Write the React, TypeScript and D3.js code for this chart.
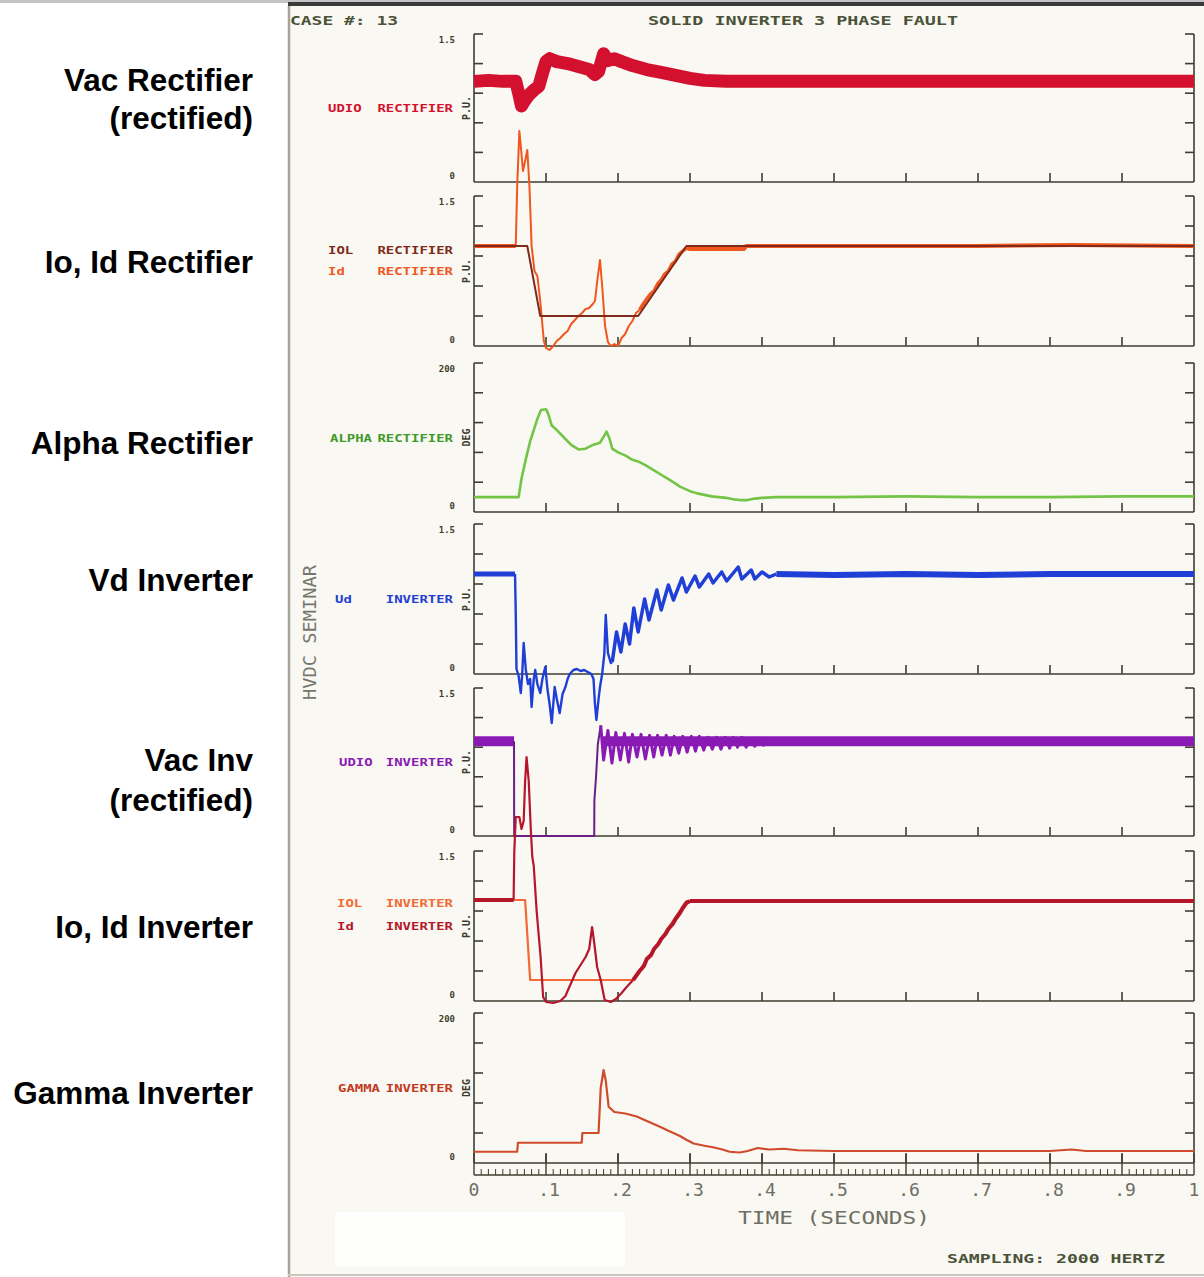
import React from 'react';
import * as d3 from 'd3';

type P = [number, number];

// ---------- axis ticks / labels ----------
const timeTicks = [0, 0.1, 0.2, 0.3, 0.4, 0.5, 0.6, 0.7, 0.8, 0.9, 1];
const timeTickLabels = ['0', '.1', '.2', '.3', '.4', '.5', '.6', '.7', '.8', '.9', '1'];
const puTicks = [0, 0.3, 0.6, 0.9, 1.2, 1.5];
const degTicks = [0, 40, 80, 120, 160, 200];

// ---------- series (time s, value) ----------
const vacRect: P[] = [[0,1.02],[0.02,1.03],[0.04,1.02],[0.058,1.02],[0.062,0.9],[0.066,0.77],[0.07,0.82],[0.076,0.88],[0.083,0.93],[0.09,0.97],[0.095,1.1],[0.1,1.22],[0.105,1.25],[0.115,1.22],[0.13,1.2],[0.145,1.17],[0.16,1.14],[0.168,1.09],[0.173,1.12],[0.18,1.3],[0.186,1.23],[0.195,1.25],[0.205,1.22],[0.22,1.18],[0.24,1.14],[0.26,1.11],[0.28,1.08],[0.3,1.05],[0.32,1.03],[0.35,1.02],[0.4,1.02],[0.6,1.02],[0.8,1.02],[1,1.02]];

const ioRect: P[] = [[0,1.0],[0.074,1.0],[0.092,0.3],[0.228,0.3],[0.295,1.0],[1,1.0]];
const idRectPre: P[] = [[0,1.0],[0.058,1.0]];
const idRectFault: P[] = [[0.058,1.0],[0.06,1.6],[0.063,2.15],[0.065,2.0],[0.068,1.75],[0.071,1.85],[0.074,1.96],[0.077,1.6],[0.08,1.0],[0.084,0.75],[0.088,0.7],[0.092,0.45],[0.097,0.05],[0.1,-0.02],[0.105,-0.04],[0.11,0.0],[0.115,0.05],[0.12,0.08],[0.125,0.12],[0.13,0.15],[0.135,0.22],[0.14,0.26],[0.145,0.3],[0.15,0.33],[0.155,0.37],[0.16,0.38],[0.165,0.42],[0.168,0.45],[0.172,0.7],[0.175,0.86],[0.178,0.6],[0.182,0.2],[0.186,0.04],[0.19,0.0],[0.195,0.02],[0.2,0.0],[0.205,0.08],[0.21,0.12],[0.215,0.2],[0.22,0.25],[0.225,0.33],[0.23,0.36]];
const idRectRamp: P[] = [[0.23,0.36],[0.235,0.42],[0.24,0.47],[0.245,0.52],[0.25,0.55],[0.255,0.62],[0.26,0.66],[0.265,0.72],[0.27,0.75],[0.275,0.82],[0.28,0.85],[0.285,0.92],[0.29,0.95],[0.295,0.98]];
const idRectPost: P[] = [[0.295,0.98],[0.3,0.97],[0.34,0.97],[0.375,0.97],[0.378,1.0],[0.5,1.0],[0.7,1.0],[0.83,1.01],[1,1.0]];

const alphaRect: P[] = [[0,20],[0.062,20],[0.066,45],[0.073,75],[0.078,95],[0.082,107],[0.088,125],[0.093,137],[0.1,138],[0.103,132],[0.108,116],[0.115,110],[0.125,100],[0.135,90],[0.145,84],[0.155,85],[0.165,90],[0.175,93],[0.18,101],[0.184,108],[0.188,99],[0.192,85],[0.2,80],[0.21,76],[0.22,70],[0.23,67],[0.238,63],[0.25,56],[0.26,50],[0.27,44],[0.28,38],[0.286,34],[0.3,28],[0.31,25],[0.32,23],[0.33,21],[0.34,20],[0.35,19],[0.36,17],[0.37,16],[0.38,16],[0.39,18],[0.4,19],[0.42,20],[0.5,20],[0.6,21],[0.7,20],[0.8,20],[0.9,21],[1,21]];

const vdPre: P[] = [[0,1.0],[0.057,1.0]];
const vdFault: P[] = [[0.057,1.0],[0.058,0.6],[0.059,0.05],[0.062,-0.02],[0.065,-0.19],[0.067,0.0],[0.069,0.31],[0.072,0.04],[0.075,-0.1],[0.078,-0.05],[0.08,-0.33],[0.083,-0.05],[0.085,0.04],[0.088,-0.1],[0.092,-0.19],[0.095,-0.05],[0.099,0.07],[0.102,-0.15],[0.105,-0.3],[0.108,-0.49],[0.112,-0.13],[0.115,-0.25],[0.119,-0.39],[0.123,-0.2],[0.127,-0.13],[0.13,-0.05],[0.133,0.0],[0.138,0.04],[0.143,0.05],[0.148,0.03],[0.153,0.04],[0.158,0.02],[0.163,0.0],[0.166,-0.05],[0.168,-0.3],[0.17,-0.46],[0.173,-0.25],[0.175,-0.13],[0.178,0.0],[0.181,0.2],[0.183,0.59],[0.186,0.21],[0.19,0.11],[0.192,0.12]];
const vdRecovery: P[] = [[0.192,0.12],[0.198,0.42],[0.204,0.22],[0.21,0.5],[0.216,0.3],[0.222,0.66],[0.228,0.42],[0.237,0.75],[0.243,0.54],[0.254,0.84],[0.26,0.64],[0.27,0.89],[0.277,0.74],[0.289,0.96],[0.295,0.82],[0.307,0.98],[0.313,0.87],[0.326,1.0],[0.332,0.91],[0.344,1.02],[0.351,0.93],[0.367,1.07],[0.372,0.95],[0.385,1.04],[0.39,0.95],[0.4,1.02],[0.41,0.97],[0.42,1.0]];
const vdPost: P[] = [[0.42,1.0],[0.5,0.99],[0.6,1.0],[0.7,0.99],[0.8,1.0],[0.9,1.0],[1,1.0]];

const vacInvPre: P[] = [[0,0.96],[0.0556,0.96]];
const vacInvFault: P[] = [[0.0556,0.96],[0.0558,0.0],[0.167,0.0],[0.1672,0.36],[0.1695,0.6],[0.172,0.93],[0.176,1.12]];
const vacInvRecovery: P[] = [[0.176,1.12],[0.18,0.77],[0.186,1.07],[0.1916,0.74],[0.197,1.05],[0.2032,0.77],[0.209,1.04],[0.2148,0.75],[0.22,1.03],[0.2264,0.8],[0.232,1.03],[0.238,0.78],[0.244,1.02],[0.2496,0.8],[0.255,1.02],[0.2612,0.82],[0.267,1.02],[0.2728,0.82],[0.278,1.01],[0.2844,0.84],[0.29,1.01],[0.296,0.85],[0.302,1.01],[0.3076,0.86],[0.313,1.01],[0.319,0.87],[0.325,1.0],[0.331,0.88],[0.337,1.0],[0.343,0.88],[0.349,1.0],[0.355,0.89],[0.36,1.0],[0.366,0.9],[0.372,1.0],[0.378,0.9],[0.384,0.99],[0.39,0.91],[0.396,0.99],[0.402,0.92],[0.41,0.96]];
const vacInvPost: P[] = [[0.178,0.96],[0.3,0.96],[0.6,0.96],[0.8,0.96],[1,0.96]];

const ioInv: P[] = [[0,1.01],[0.071,1.01],[0.078,0.21],[0.221,0.21],[0.295,1.0],[1,1.0]];
const idInvPre: P[] = [[0,1.01],[0.055,1.01]];
const idInvFault: P[] = [[0.055,1.01],[0.056,1.5],[0.058,1.84],[0.063,1.84],[0.066,1.72],[0.069,1.8],[0.071,2.2],[0.073,2.44],[0.076,2.2],[0.079,1.7],[0.081,1.44],[0.083,1.35],[0.087,0.9],[0.0925,0.44],[0.096,0.04],[0.1,-0.01],[0.11,-0.02],[0.12,0.0],[0.127,0.05],[0.133,0.15],[0.141,0.28],[0.148,0.36],[0.155,0.44],[0.16,0.52],[0.164,0.74],[0.167,0.58],[0.171,0.34],[0.176,0.21],[0.1815,0.01],[0.19,-0.01],[0.197,0.02],[0.205,0.08],[0.212,0.14],[0.221,0.21]];
const idInvRamp: P[] = [[0.221,0.21],[0.23,0.3],[0.236,0.35],[0.24,0.42],[0.246,0.46],[0.25,0.52],[0.256,0.57],[0.26,0.62],[0.266,0.67],[0.27,0.72],[0.276,0.77],[0.28,0.82],[0.286,0.88],[0.29,0.93],[0.295,0.98],[0.3,1.0]];
const idInvPost: P[] = [[0.3,1.0],[0.5,1.0],[0.7,1.0],[0.9,1.0],[1,1.0]];

const gammaInv: P[] = [[0,15],[0.06,15],[0.061,27],[0.1496,27],[0.1505,40],[0.173,40],[0.176,100],[0.18,124],[0.183,110],[0.187,75],[0.195,68],[0.21,66],[0.226,62],[0.24,56],[0.259,48],[0.27,43],[0.286,36],[0.295,31],[0.305,26],[0.32,23],[0.332,21],[0.345,18],[0.355,15],[0.369,14],[0.38,16],[0.394,20],[0.41,18],[0.43,19],[0.45,17],[0.5,16],[0.6,16],[0.7,16],[0.8,16],[0.83,18],[0.85,16],[0.9,16],[1,16]];

// ---------- colours ----------
const C = {
  vacRect: '#d3112e', ioRect: '#7e2a1c', idRect: '#f0561e', alpha: '#74c447',
  vd: '#1f3fd6', vacInv: '#8a1ab4', vacInvZero: '#6a1f84', ioInv: '#f26a35', idInv: '#b5162c', gamma: '#cf4b2c',
  axis: '#3e3e30', text: '#4a5238', grey: '#6e6e64'
};

// ---------- layout ----------
const W = 1204, H = 1277;
const X0 = 474, X1 = 1194;
const panelTop = [34, 196, 363, 524, 688, 851, 1013];
const panelBottom = [182, 346, 512, 674, 836, 1001, 1163];

type Series = { data: P[]; color: string; width: number };
type Label = { a: string; b: string; color: string; dy: number };
type Panel = { ticks: number[]; topLabel: string; unit: string; labelX: number; labels: Label[]; series: Series[]; titles: string[]; titleY: number[] };

const panels: Panel[] = [
  { ticks: puTicks, topLabel: '1.5', unit: 'P.U.', labelX: 328, titles: ['Vac Rectifier', '(rectified)'], titleY: [80, 118],
    labels: [{ a: 'UDIO', b: 'RECTIFIER', color: C.vacRect, dy: 0 }],
    series: [{ data: vacRect, color: C.vacRect, width: 13 }] },
  { ticks: puTicks, topLabel: '1.5', unit: 'P.U.', labelX: 328, titles: ['Io, Id Rectifier'], titleY: [262],
    labels: [{ a: 'IOL', b: 'RECTIFIER', color: C.ioRect, dy: -21 }, { a: 'Id', b: 'RECTIFIER', color: C.idRect, dy: 0 }],
    series: [{ data: idRectPre, color: C.idRect, width: 4 }, { data: idRectFault, color: C.idRect, width: 2 }, { data: idRectRamp, color: C.idRect, width: 3.5 }, { data: idRectPost, color: C.idRect, width: 4 }, { data: ioRect, color: C.ioRect, width: 2 }] },
  { ticks: degTicks, topLabel: '200', unit: 'DEG', labelX: 330, titles: ['Alpha Rectifier'], titleY: [443],
    labels: [{ a: 'ALPHA', b: 'RECTIFIER', color: '#3f9a2a', dy: 0 }],
    series: [{ data: alphaRect, color: C.alpha, width: 2.6 }] },
  { ticks: puTicks, topLabel: '1.5', unit: 'P.U.', labelX: 335, titles: ['Vd Inverter'], titleY: [580],
    labels: [{ a: 'Ud', b: 'INVERTER', color: C.vd, dy: 0 }],
    series: [{ data: vdPre, color: C.vd, width: 5 }, { data: vdFault, color: C.vd, width: 2.4 }, { data: vdRecovery, color: C.vd, width: 3.5 }, { data: vdPost, color: C.vd, width: 6 }] },
  { ticks: puTicks, topLabel: '1.5', unit: 'P.U.', labelX: 339, titles: ['Vac Inv', '(rectified)'], titleY: [760, 800],
    labels: [{ a: 'UDIO', b: 'INVERTER', color: C.vacInv, dy: 0 }],
    series: [{ data: vacInvPre, color: C.vacInv, width: 10 }, { data: vacInvFault, color: C.vacInvZero, width: 2 }, { data: vacInvPost, color: C.vacInv, width: 10 }, { data: vacInvRecovery, color: C.vacInv, width: 3 }] },
  { ticks: puTicks, topLabel: '1.5', unit: 'P.U.', labelX: 337, titles: ['Io, Id Inverter'], titleY: [927],
    labels: [{ a: 'IOL', b: 'INVERTER', color: C.ioInv, dy: -23 }, { a: 'Id', b: 'INVERTER', color: C.idInv, dy: 0 }],
    series: [{ data: ioInv, color: C.ioInv, width: 2.2 }, { data: idInvPre, color: C.idInv, width: 4 }, { data: idInvFault, color: C.idInv, width: 2.2 }, { data: idInvRamp, color: C.idInv, width: 4 }, { data: idInvPost, color: C.idInv, width: 4 }] },
  { ticks: degTicks, topLabel: '200', unit: 'DEG', labelX: 338, titles: ['Gamma Inverter'], titleY: [1093],
    labels: [{ a: 'GAMMA', b: 'INVERTER', color: '#c23a22', dy: 0 }],
    series: [{ data: gammaInv, color: C.gamma, width: 2.2 }] },
];

const mono = '"DejaVu Sans Mono", "Liberation Mono", monospace';
const CW = 8.4; // glyph width for small plot labels

export default function App() {
  const x = d3.scaleLinear().domain([0, 1]).range([X0, X1]);
  const minor = d3.range(0, 101).map((i) => i / 100).filter((v, i) => i % 10 !== 0);

  return (
    <svg width={W} height={H} viewBox={`0 0 ${W} ${H}`} style={{ position: 'absolute', left: 0, top: 0, background: '#ffffff' }}>
      {/* scanned sheet */}
      <rect x={288} y={6} width={W - 288} height={H - 6} fill="#f9f8f2" />
      <rect x={335} y={1212} width={290} height={55} fill="#fefefd" />
      <line x1={289} y1={6} x2={289} y2={H} stroke="#a4a49a" strokeWidth={2.5} />
      <line x1={288} y1={H - 2} x2={W} y2={H - 2} stroke="#c8c8c0" strokeWidth={2} />
      <rect x={0} y={0} width={W} height={3} fill="#c4c4c4" />
      <rect x={288} y={2} width={W - 288} height={4} fill="#3a3a3a" />

      {/* header */}
      <text x={290} y={25} fontFamily={mono} fontSize={12} fontWeight="bold" fill={C.text} textLength={108} lengthAdjust="spacingAndGlyphs">CASE #: 13</text>
      <text x={648} y={25} fontFamily={mono} fontSize={12} fontWeight="bold" fill={C.text} textLength={310} lengthAdjust="spacingAndGlyphs">SOLID INVERTER 3 PHASE FAULT</text>

      {/* vertical seminar title */}
      <text transform="translate(316,700) rotate(-90)" fontFamily={mono} fontSize={17} fill="#76766c" textLength={135} lengthAdjust="spacingAndGlyphs">HVDC SEMINAR</text>

      {panels.map((p, i) => {
        const top = panelTop[i];
        const bot = panelBottom[i];
        const yMax = p.ticks[p.ticks.length - 1];
        const y = d3.scaleLinear().domain([0, yMax]).range([bot, top]);
        const line = d3.line<P>().x((d) => x(d[0])).y((d) => y(d[1]));
        const mid = (top + bot) / 2;
        return (
          <g key={i}>
            {/* left titles */}
            {p.titles.map((t, k) => (
              <text key={k} x={253} y={p.titleY[k] + 11} textAnchor="end" fontFamily='"Liberation Sans", Arial, sans-serif' fontWeight="bold" fontSize={31.5} fill="#000">{t}</text>
            ))}
            {/* axes */}
            <g stroke={C.axis} strokeWidth={1.6} fill="none">
              <line x1={X0} y1={top} x2={X0} y2={bot} />
              <line x1={X1} y1={top} x2={X1} y2={bot} />
              <line x1={X0} y1={bot} x2={X1} y2={bot} />
              {p.ticks.filter((t) => t > 0).map((t) => (
                <g key={t}>
                  <line x1={X0} y1={y(t)} x2={X0 + 9} y2={y(t)} />
                  <line x1={X1 - 9} y1={y(t)} x2={X1} y2={y(t)} />
                </g>
              ))}
              {timeTicks.filter((t) => t > 0 && t < 1).map((t) => (
                <line key={t} x1={x(t)} y1={bot} x2={x(t)} y2={bot - 9} />
              ))}
            </g>
            {/* tick labels */}
            <text x={455} y={top + 9} textAnchor="end" fontFamily={mono} fontSize={9} fontWeight="bold" fill={C.axis}>{p.topLabel}</text>
            <text x={455} y={bot - 3} textAnchor="end" fontFamily={mono} fontSize={9} fontWeight="bold" fill={C.axis}>0</text>
            {/* unit */}
            <text transform={`translate(470,${mid}) rotate(-90)`} textAnchor="middle" fontFamily={mono} fontSize={10} fontWeight="bold" fill={C.axis}>{p.unit}</text>
            {/* series labels */}
            {p.labels.map((l, k) => (
              <g key={k} fontFamily={mono} fontSize={10} fontWeight="bold" fill={l.color}>
                <text x={p.labelX} y={mid + l.dy + 4} textLength={l.a.length * CW} lengthAdjust="spacingAndGlyphs">{l.a}</text>
                <text x={453 - l.b.length * CW} y={mid + l.dy + 4} textLength={l.b.length * CW} lengthAdjust="spacingAndGlyphs">{l.b}</text>
              </g>
            ))}
            {/* series */}
            {p.series.map((s, k) => (
              <path key={k} d={line(s.data) || ''} fill="none" stroke={s.color} strokeWidth={s.width} strokeLinejoin="round" strokeLinecap="butt" />
            ))}
          </g>
        );
      })}

      {/* bottom ruler */}
      <g stroke={C.axis} strokeWidth={1.4}>
        <line x1={X0} y1={1175} x2={X1} y2={1175} />
        {minor.map((t) => (
          <line key={t} x1={x(t)} y1={1175} x2={x(t)} y2={1169} strokeWidth={1} />
        ))}
        {timeTicks.map((t) => (
          <line key={t} x1={x(t)} y1={1153} x2={x(t)} y2={1175} />
        ))}
      </g>
      {timeTicks.map((t, k) => (
        <text key={t} x={x(t) + (k === 0 || k === 10 ? 0 : 3)} y={1196} textAnchor="middle" fontFamily={mono} fontSize={18} fill={C.grey}>{timeTickLabels[k]}</text>
      ))}
      <text x={738} y={1224} fontFamily={mono} fontSize={17} fill={C.grey} textLength={192} lengthAdjust="spacingAndGlyphs">TIME (SECONDS)</text>
      <text x={947} y={1263} fontFamily={mono} fontSize={12} fontWeight="bold" fill={C.text} textLength={218} lengthAdjust="spacingAndGlyphs">SAMPLING: 2000 HERTZ</text>
    </svg>
  );
}
